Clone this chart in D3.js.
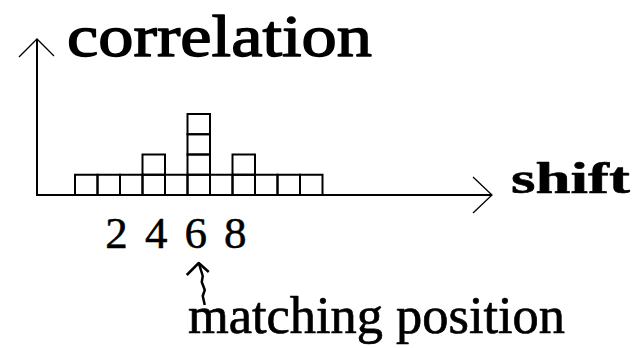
<!DOCTYPE html>
<html>
<head>
<meta charset="utf-8">
<script src="https://cdn.jsdelivr.net/npm/d3@7"></script>
<style>
  html, body { margin: 0; padding: 0; background: #fff; }
  svg { display: block; }
</style>
</head>
<body>
<script>
// Cross-correlation of two sequences at each shift, in unit blocks
const shifts = [1, 2, 3, 4, 5, 6, 7, 8, 9, 10, 11];
const correlation = [1, 1, 1, 2, 1, 4, 1, 2, 1, 1, 1];
const tickLabels = [2, 4, 6, 8];
const peakShift = 6;
const yTitle = "correlation";
const xTitle = "shift";
const peakNote = "matching position";

const W = 634, H = 348;
const FONT = "'Liberation Serif'";
const svg = d3.select("body").append("svg").attr("width", W).attr("height", H);

// Origin of the axes
const x0 = 37, y0 = 195;

const x = d3.scaleBand().domain(shifts).range([75, 322.5]).padding(0);
const y = d3.scaleLinear().domain([0, 4]).range([y0, 114]);

// Unit squares stacked up to each shift's correlation
const cells = [];
shifts.forEach((s, i) => {
  for (let k = 0; k < correlation[i]; k++) cells.push({ s, k });
});
svg.append("g").selectAll("rect").data(cells).join("rect")
  .attr("x", d => x(d.s))
  .attr("y", d => y(d.k + 1))
  .attr("width", x.bandwidth())
  .attr("height", d => y(d.k) - y(d.k + 1))
  .attr("fill", "none")
  .attr("stroke", "#000")
  .attr("stroke-width", 2);

// Axes with open arrowheads
const axes = svg.append("g").attr("stroke", "#000").attr("fill", "none");
axes.append("line").attr("x1", x0).attr("y1", y0 + 1).attr("x2", x0).attr("y2", 39).attr("stroke-width", 2);
axes.append("polyline").attr("points", `${x0 - 18},57 ${x0},39 ${x0 + 17},56`).attr("stroke-width", 1.3);
axes.append("line").attr("x1", x0 - 1).attr("y1", y0).attr("x2", 492).attr("y2", y0).attr("stroke-width", 2);
axes.append("polyline").attr("points", `473,177 492,${y0} 473,213`).attr("stroke-width", 1.3);

// Serif text, thickened slightly with a matching outline
function label(sel, weight) {
  return sel.style("font-family", FONT).attr("fill", "#000")
    .attr("stroke", "#000").attr("stroke-width", weight)
    .attr("stroke-linejoin", "round");
}

// Axis titles
svg.append("text").call(label, 1.4).attr("x", 67).attr("y", 56)
  .attr("font-size", 60)
  .attr("textLength", 305).attr("lengthAdjust", "spacingAndGlyphs")
  .text(yTitle);
svg.append("text").call(label, 0.6).attr("x", 511).attr("y", 193)
  .attr("font-size", 45).attr("font-weight", "bold")
  .attr("textLength", 119).attr("lengthAdjust", "spacingAndGlyphs")
  .text(xTitle);

// Tick labels, set a little tighter than the cells around the peak
const cx = s => x(s) + x.bandwidth() / 2;
const lx = s => cx(peakShift) - 3 + (cx(s) - cx(peakShift)) * 0.88;
svg.append("g").selectAll("text").data(tickLabels).join("text").call(label, 0.5)
  .attr("x", lx)
  .attr("y", 248)
  .attr("text-anchor", "middle")
  .attr("font-size", 45)
  .text(d => d);

// Hand-drawn pointer to the peak and its note
const px = cx(peakShift);
svg.append("path")
  .attr("d", `M${px + 6},305 L${px + 4},296 L${px + 6},290 L${px + 3},282 L${px + 4},276 L${px},263`)
  .attr("fill", "none").attr("stroke", "#000").attr("stroke-width", 2.5)
  .attr("stroke-linejoin", "round");
svg.append("path")
  .attr("d", `M${px - 12},275 L${px},263 L${px + 10},272`)
  .attr("fill", "none").attr("stroke", "#000").attr("stroke-width", 2.5)
  .attr("stroke-linejoin", "round");
svg.append("text").call(label, 0.7).attr("x", 188).attr("y", 333)
  .attr("font-size", 52)
  .attr("textLength", 377).attr("lengthAdjust", "spacingAndGlyphs")
  .text(peakNote);
</script>
</body>
</html>
